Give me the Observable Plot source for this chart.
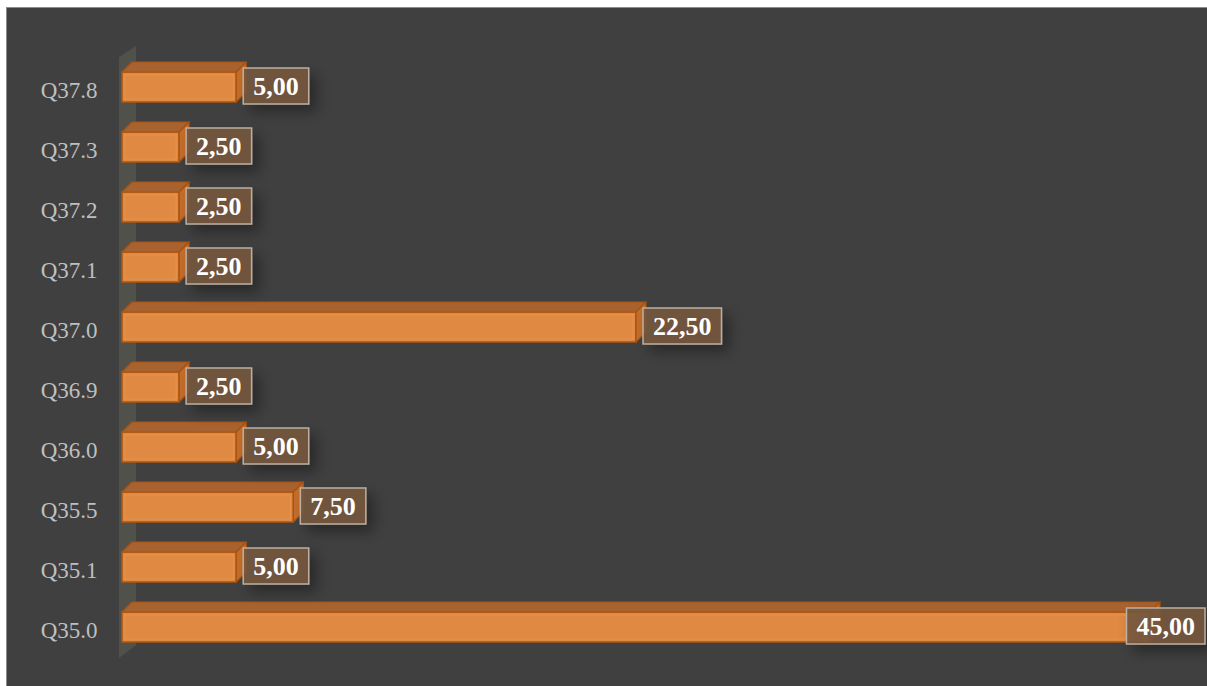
<!DOCTYPE html>
<html><head><meta charset="utf-8">
<script src="https://cdn.jsdelivr.net/npm/d3@7"></script>
<script src="https://cdn.jsdelivr.net/npm/@observablehq/plot@0.6"></script>
<style>
html,body{margin:0;background:#fff;}
#chart{position:absolute;left:7px;top:8px;}
#chart svg{display:block;outline:1px solid #8c8c8c;}
</style>
</head><body><div id="chart"></div>
<script>
const categories = ["Q35.0","Q35.1","Q35.5","Q36.0","Q36.9","Q37.0","Q37.1","Q37.2","Q37.3","Q37.8"];
const values = [45, 5, 7.5, 5, 2.5, 22.5, 2.5, 2.5, 2.5, 5];
const valueLabels = ["45,00","5,00","7,50","5,00","2,50","22,50","2,50","2,50","2,50","5,00"];

const data = categories.map((c, i) => ({cat: c, val: values[i], label: valueLabels[i]}));
const order = categories.slice().reverse();
const W = 1200, H = 678;
const DX = 10, DY = 10;
const LABEL_FONT = "bold 26px 'Liberation Serif'";

const canvas = document.createElement("canvas");
const ctx2d = canvas.getContext("2d");
ctx2d.font = LABEL_FONT;

function bars3d(index, scales) {
  const x = scales.x, y = scales.y;
  const bw = typeof y.bandwidth === "function" ? y.bandwidth() : 30;
  const g = d3.create("svg:g");
  const x0 = x(0);
  const yFirst = y(order[0]), yLast = y(order[order.length - 1]) + bw;
  g.append("polygon")
    .attr("points", [[x0 - 3, yFirst - 15], [x0 + 14, yFirst - 26], [x0 + 14, yLast + 3], [x0 - 3, yLast + 16]].join(" "))
    .attr("fill", "rgba(140,140,115,0.22)");
  for (const i of index) {
    const d = data[i];
    const x1 = x(d.val), yt = y(d.cat), yb = yt + bw;
    g.append("rect").attr("x", x0).attr("y", yt).attr("width", x1 - x0).attr("height", bw)
      .attr("fill", "#df8943").attr("stroke", "#b0560f").attr("stroke-width", 1.5);
    g.append("rect").attr("x", x0 + 3).attr("y", yt + 3).attr("width", Math.max(0, x1 - x0 - 6)).attr("height", bw - 6)
      .attr("fill", "none").attr("stroke", "rgba(240,160,90,0.5)").attr("stroke-width", 1);
    g.append("polygon")
      .attr("points", [[x0, yt], [x1, yt], [x1 + DX, yt - DY], [x0 + DX, yt - DY]].join(" "))
      .attr("fill", "#a8622f").attr("stroke", "#a9520e").attr("stroke-width", 1.2).attr("stroke-linejoin", "round");
    g.append("polygon")
      .attr("points", [[x1, yt], [x1 + DX, yt - DY], [x1 + DX, yb - DY], [x1, yb]].join(" "))
      .attr("fill", "#c36d2b").attr("stroke", "#a9520e").attr("stroke-width", 1.2).attr("stroke-linejoin", "round");
  }
  return g.node();
}

function labels(index, scales) {
  const x = scales.x, y = scales.y;
  const bw = typeof y.bandwidth === "function" ? y.bandwidth() : 30;
  const g = d3.create("svg:g");
  const defs = g.append("defs");
  const f = defs.append("filter").attr("id", "lblshadow").attr("x", "-30%").attr("y", "-40%").attr("width", "170%").attr("height", "200%");
  f.append("feDropShadow").attr("dx", 7).attr("dy", 7).attr("stdDeviation", 7)
    .attr("flood-color", "#000").attr("flood-opacity", 0.4);
  for (const i of index) {
    const d = data[i];
    const tw = ctx2d.measureText(d.label).width;
    const bwid = tw + 20, bh = 36;
    let bx = x(d.val) + 7;
    if (bx + bwid > W - 2) bx = W - 2 - bwid;
    const cy = y(d.cat) + bw / 2 - 1;
    g.append("rect").attr("x", bx).attr("y", cy - bh / 2).attr("width", bwid).attr("height", bh)
      .attr("fill", "rgba(118,86,62,0.9)").attr("stroke", "#bcaea0").attr("stroke-width", 1.5)
      .attr("filter", "url(#lblshadow)");
    g.append("text").attr("x", bx + bwid / 2).attr("y", cy).attr("dy", "0.36em")
      .attr("text-anchor", "middle").attr("fill", "#ffffff")
      .style("font", LABEL_FONT).text(d.label);
  }
  return g.node();
}

const plot = Plot.plot({
  width: W,
  height: H,
  marginLeft: 115,
  marginRight: 57,
  marginTop: 49,
  marginBottom: 29,
  style: {background: "#404040", fontFamily: "'Liberation Serif', serif"},
  x: {domain: [0, 45], axis: null},
  y: {domain: order, paddingInner: 0.5, paddingOuter: 0.25, label: null},
  marks: [
    Plot.axisY({tickSize: 0, tickPadding: 25, fontSize: 23, dy: 3, color: "#bfbfbf", label: null}),
    Plot.barX(data, {x: "val", y: "cat", render: bars3d}),
    Plot.text(data, {x: "val", y: "cat", text: "label", render: labels})
  ]
});
document.getElementById("chart").appendChild(plot);
</script>
</body></html>
